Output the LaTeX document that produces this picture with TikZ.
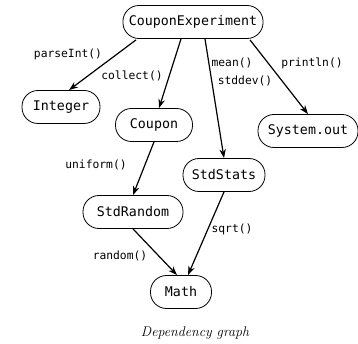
\documentclass[tikz,border=0pt]{standalone}
\usepackage{fontspec}
\usepackage{tikz}
\usetikzlibrary{arrows.meta,calc,positioning}
\newfontfamily\codefont{DejaVu Sans Mono}

\begin{document}
\begin{tikzpicture}[
 x=1pt,y=-1pt,
 box/.style={draw,line width=0.8pt,rounded corners=16pt,minimum height=33pt,inner xsep=6pt,font=\codefont\fontsize{13.3}{15}\selectfont},
 arr/.style={-{Stealth[length=9pt,width=6.5pt]},line width=1.2pt},
 call/.style={font=\codefont\fontsize{11.3}{13}\selectfont,inner sep=0pt}
]
\useasboundingbox (0,0) rectangle (358,344);
% classes
\node[box] (exp) at (193,22) {CouponExperiment};
\node[box,minimum width=78pt] (int) at (61,107) {Integer};
\node[box,minimum width=77pt] (cpn) at (154,125) {Coupon};
\node[box,minimum width=100pt] (sysout) at (308,131) {System.out};
\node[box,minimum width=82pt] (stats) at (224,175) {StdStats};
\node[box,minimum width=100pt] (rnd) at (133,212) {StdRandom};
\node[box,minimum width=61pt] (math) at (181,292) {Math};
% dependencies
\draw[arr] ([xshift=-57pt,yshift=-1pt]exp.south) -- ([xshift=8pt]int.north);
\draw[arr] ([xshift=-12pt]exp.south) -- ([xshift=5pt]cpn.north);
\draw[arr] ([xshift=12pt]exp.south) -- (stats.north);
\draw[arr] ([xshift=57pt,yshift=-1pt]exp.south) -- (sysout.north);
\draw[arr] (cpn.south) -- (rnd.north);
\draw[arr] (rnd.south) -- ([xshift=-4pt]math.north);
\draw[arr] (stats.south) -- ([xshift=7pt]math.north);
% method calls
\node[call] (parse) at (68,54) {parseInt()};
\node[call] (collect) at (132,76) {collect()};
\node[call] (mean) at (232,63) {mean()};
\node[call] (stddev) at (245,81) {stddev()};
\node[call] (println) at (312,63) {println()};
\node[call] (uniform) at (96,165) {uniform()};
\node[call] (random) at (120,256) {random()};
\node[call] (sqrt) at (232,229) {sqrt()};
\node[font=\itshape\fontsize{14}{16}\selectfont] (caption) at (195,333) {Dependency graph};
\end{tikzpicture}
\end{document}
